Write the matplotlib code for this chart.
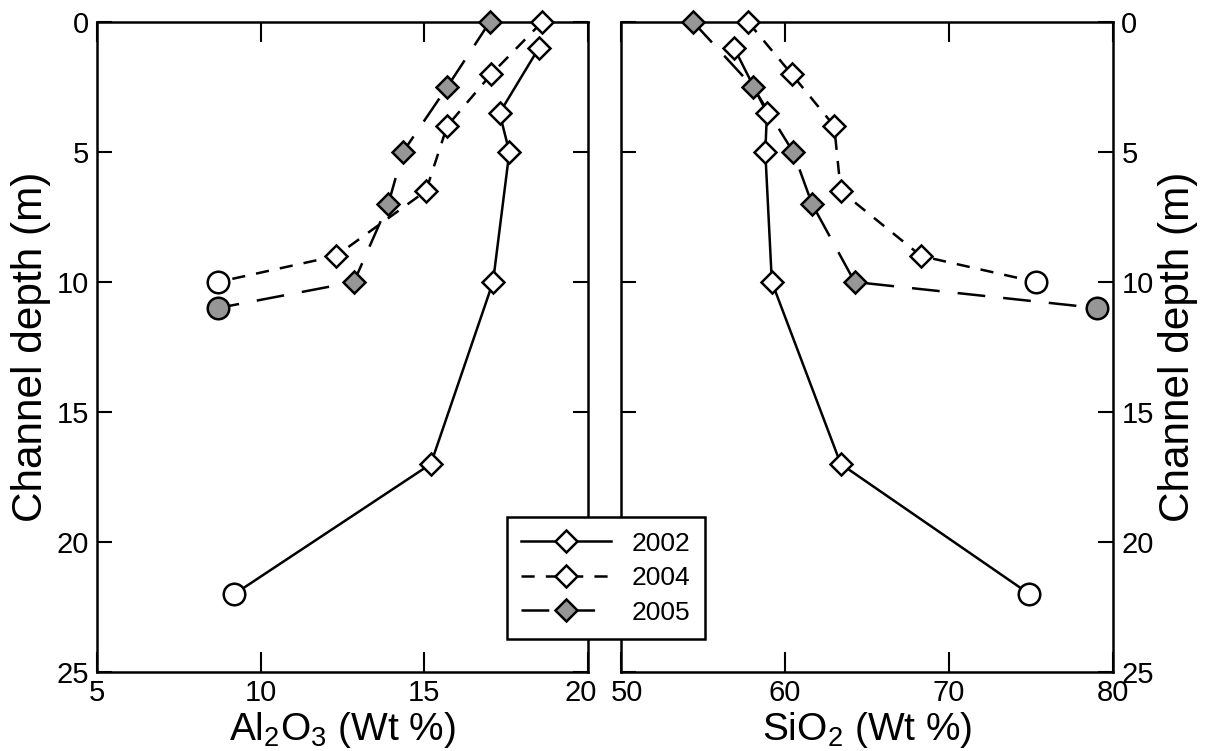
import numpy as np
import matplotlib
matplotlib.use("Agg")
import matplotlib.pyplot as plt
import matplotlib.transforms as mtransforms
from matplotlib.lines import Line2D

# depth of each sample (m)
depth_2002 = [1, 3.5, 5, 10, 17, 22]
depth_2004 = [0, 2, 4, 6.5, 9, 10]
depth_2005 = [0, 2.5, 5, 7, 10, 11]

# Al2O3 (Wt %)
al_2002 = [18.5, 17.3, 17.6, 17.1, 15.2, 9.2]
al_2004 = [18.6, 17.05, 15.7, 15.05, 12.3, 8.7]
al_2005 = [17.0, 15.7, 14.35, 13.9, 12.85, 8.7]

# SiO2 (Wt %)
si_2002 = [56.9, 58.9, 58.8, 59.2, 63.4, 74.9]
si_2004 = [57.75, 60.4, 63.0, 63.4, 68.3, 75.3]
si_2005 = [54.4, 58.05, 60.5, 61.65, 64.25, 79.0]

years = ["2002", "2004", "2005"]

plt.rcParams['font.family'] = ['Liberation Sans', 'DejaVu Sans']
plt.rcParams['mathtext.default'] = 'regular'
plt.rcParams['lines.scale_dashes'] = False

gray = '#969696'
lw = 1.8
ms_d = 11.5
ms_o = 15.5
styles = {
    "2002": dict(ls='-', fill='white'),
    "2004": dict(ls=(0, (9.5, 8)), fill='white'),
    "2005": dict(ls=(0, (20, 13)), fill=gray),
}

fig = plt.figure(figsize=(12.06, 7.51), dpi=100)
ax1 = fig.add_axes([0.0804, 0.1052, 0.4071, 0.8655])
ax2 = fig.add_axes([0.5149, 0.1052, 0.4080, 0.8655])


def draw_series(ax, x, d, year):
    st = styles[year]
    ax.plot(x, d, color='black', lw=lw, ls=st['ls'], zorder=2)
    # diamonds for the samples, circle for the deepest one
    ax.plot(x[:-1], d[:-1], ls='none', marker='D', ms=ms_d, mfc=st['fill'],
            mec='black', mew=lw, zorder=3, clip_on=False)
    ax.plot(x[-1:], d[-1:], ls='none', marker='o', ms=ms_o, mfc=st['fill'],
            mec='black', mew=lw, zorder=3, clip_on=False)


for ax, vals in [(ax1, (al_2002, al_2004, al_2005)),
                 (ax2, (si_2002, si_2004, si_2005))]:
    for x, d, yr in zip(vals, (depth_2002, depth_2004, depth_2005), years):
        draw_series(ax, x, d, yr)

ax1.set_xlim(5, 20)
ax1.set_xticks([5, 10, 15, 20])
ax2.set_xlim(50, 80)
ax2.set_xticks([50, 60, 70, 80])

for ax in (ax1, ax2):
    ax.set_ylim(25, 0)
    ax.set_yticks([0, 5, 10, 15, 20, 25])
    for s in ax.spines.values():
        s.set_linewidth(1.8)
    ax.tick_params(axis='x', direction='in', length=14.5, width=1.5,
                   top=True, bottom=True, labelsize=21, pad=5)
    ax.tick_params(axis='y', direction='in', length=10.5, width=1.5,
                   left=True, right=True, labelsize=21, pad=6)

ax2.tick_params(axis='y', labelleft=False, labelright=True)
ax2.yaxis.set_label_position('right')

# pull apart the "20" and "50" labels where the panels meet
shift_l = mtransforms.ScaledTranslation(-7 / 100, 0, fig.dpi_scale_trans)
shift_r = mtransforms.ScaledTranslation(6 / 100, 0, fig.dpi_scale_trans)
lab20 = ax1.get_xticklabels()[-1]
lab20.set_transform(lab20.get_transform() + shift_l)
lab50 = ax2.get_xticklabels()[0]
lab50.set_transform(lab50.get_transform() + shift_r)

ax1.set_xlabel(r'Al$_2$O$_3$ (Wt %)', fontsize=28, labelpad=2)
ax2.set_xlabel(r'SiO$_2$ (Wt %)', fontsize=28, labelpad=2)
ax1.set_ylabel('Channel depth (m)', fontsize=30.5, labelpad=4)
ax2.set_ylabel('Channel depth (m)', fontsize=30.5, labelpad=3)

handles = [Line2D([], [], color='black', lw=lw, ls=styles[yr]['ls'], marker='D',
                  ms=ms_d, mfc=styles[yr]['fill'], mec='black', mew=lw)
           for yr in years]
leg = fig.legend(handles, years, loc='upper left',
                 bbox_to_anchor=(0.420, 0.3116), bbox_transform=fig.transFigure,
                 fancybox=False, edgecolor='black', framealpha=1,
                 prop={'size': 19},
                 handlelength=3.4, handletextpad=0.8, labelspacing=0.4,
                 borderpad=0.55, borderaxespad=0)
leg.get_frame().set_linewidth(1.8)

fig.savefig('out.png', dpi=100)
